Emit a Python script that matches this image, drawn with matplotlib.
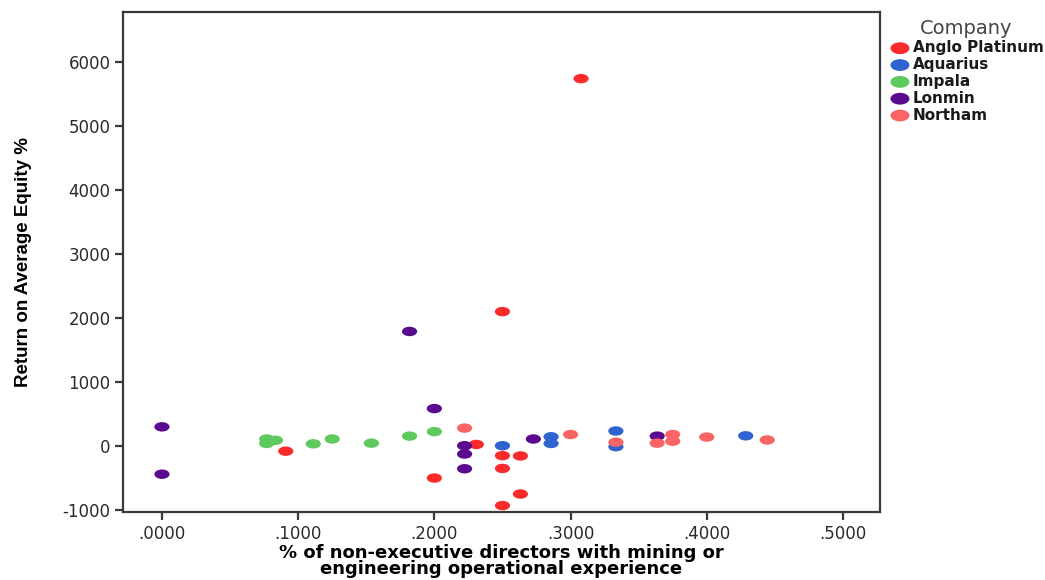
import matplotlib
matplotlib.use("Agg")
import matplotlib.pyplot as plt
import numpy as np
from matplotlib.path import Path

plt.rcParams["axes.unicode_minus"] = False

# data
companies = ["Anglo Platinum", "Aquarius", "Impala", "Lonmin", "Northam"]
colors = ["#fb2b2b", "#2f63cf", "#5ec95e", "#5a0a8f", "#fa6464"]

anglo_x = [0.0909, 0.2000, 0.2308, 0.2500, 0.2500, 0.2500, 0.2500, 0.2632, 0.2632, 0.3077]
anglo_y = [-80, -500, 25, -150, -350, -930, 2100, -155, -750, 5740]
aquarius_x = [0.2500, 0.2857, 0.2857, 0.3333, 0.3333, 0.4286]
aquarius_y = [5, 145, 40, 235, -10, 160]
impala_x = [0.0769, 0.0769, 0.0833, 0.1111, 0.1250, 0.1538, 0.1818, 0.2000]
impala_y = [110, 40, 90, 35, 110, 45, 155, 225]
lonmin_x = [0.0000, 0.0000, 0.1818, 0.2000, 0.2222, 0.2222, 0.2222, 0.2727, 0.3636]
lonmin_y = [300, -440, 1790, 585, 5, -125, -355, 110, 155]
northam_x = [0.2222, 0.3000, 0.3333, 0.3636, 0.3750, 0.3750, 0.4000, 0.4444]
northam_y = [280, 180, 60, 45, 180, 75, 140, 95]

xs = [anglo_x, aquarius_x, impala_x, lonmin_x, northam_x]
ys = [anglo_y, aquarius_y, impala_y, lonmin_y, northam_y]

x_ticks = [0.0, 0.1, 0.2, 0.3, 0.4, 0.5]
x_ticklabels = [".0000", ".1000", ".2000", ".3000", ".4000", ".5000"]
y_ticks = [-1000, 0, 1000, 2000, 3000, 4000, 5000, 6000]

# wide ellipse marker (the original image is stretched sideways)
circ = Path.unit_circle()
ellipse = Path(circ.vertices * np.array([1.0, 0.62]), circ.codes)

fig = plt.figure(figsize=(10.45, 5.8), dpi=100)
ax = fig.add_axes([0.1177, 0.1172, 0.7244, 0.8621])

for name, c, x, y in zip(companies, colors, xs, ys):
    ax.scatter(x, y, s=120, marker=ellipse, color=c, edgecolors="none", label=name)

ax.set_xlim(-0.0286, 0.5272)
ax.set_ylim(-1031, 6781)
ax.set_xticks(x_ticks)
ax.set_xticklabels(x_ticklabels)
ax.set_yticks(y_ticks)

for s in ax.spines.values():
    s.set_color("#3a3a3a")
    s.set_linewidth(1.6)
ax.tick_params(direction="out", length=6, width=1.6, color="#3a3a3a",
               labelsize=12, labelcolor="#2a2a2a", pad=3)
for lbl in ax.get_xticklabels() + ax.get_yticklabels():
    lbl.set_family("DejaVu Sans")

ax.set_xlabel("% of non-executive directors with mining or\nengineering operational experience",
              family="DejaVu Sans", fontweight="bold", fontsize=13, linespacing=0.85, labelpad=1)
ax.set_ylabel("Return on Average Equity %", family="Liberation Sans",
              fontweight="bold", fontsize=13.5, labelpad=22)

leg = fig.legend(loc="upper left", bbox_to_anchor=(0.84, 0.985), frameon=False,
                 title="Company", fontsize=11, handletextpad=0.1, labelspacing=0.12,
                 borderpad=0.2, handlelength=1.5, markerscale=1.25)
leg.get_title().set_fontsize(14)
leg.get_title().set_color("#444444")
for t in leg.get_texts():
    t.set_family("DejaVu Sans")
    t.set_fontweight("bold")
    t.set_color("#1a1a1a")

fig.savefig("out.png", dpi=100)
